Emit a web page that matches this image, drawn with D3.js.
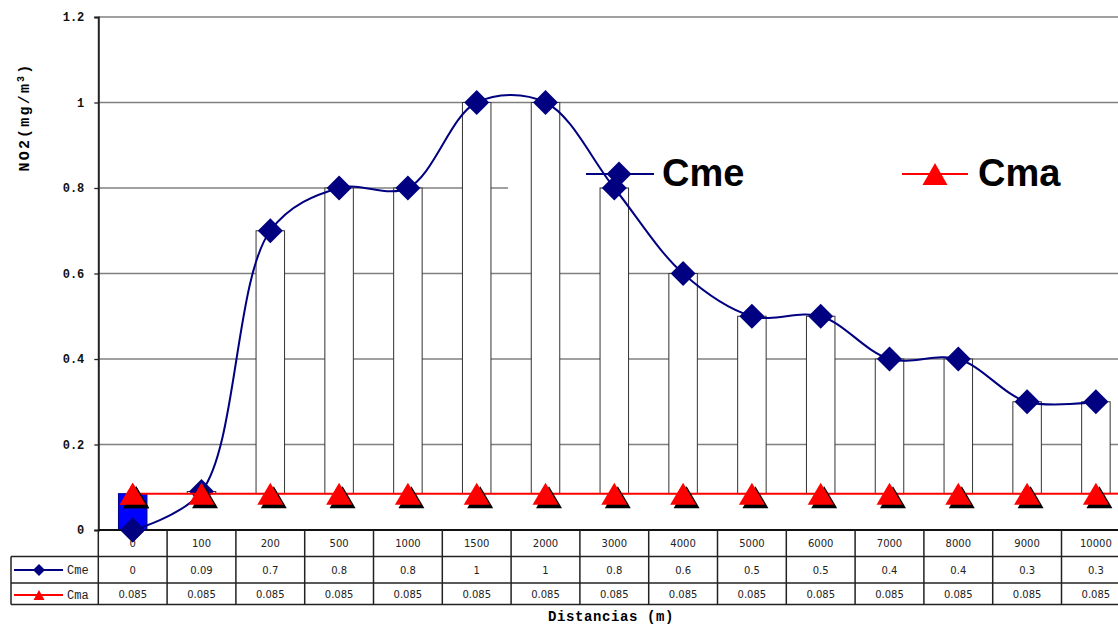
<!DOCTYPE html>
<html>
<head>
<meta charset="utf-8">
<script src="https://cdn.jsdelivr.net/npm/d3@7"></script>
<style>
  html, body { margin: 0; padding: 0; background: #fff; }
  svg { display: block; }
</style>
</head>
<body>
<svg id="chart" width="1118" height="627"></svg>
<script>
// Distances along the measurement line and the two NO2 series
const distancias = ["0", "100", "200", "500", "1000", "1500", "2000", "3000", "4000", "5000", "6000", "7000", "8000", "9000", "10000"];
const cme = [0, 0.09, 0.7, 0.8, 0.8, 1, 1, 0.8, 0.6, 0.5, 0.5, 0.4, 0.4, 0.3, 0.3];
const cma = [0.085, 0.085, 0.085, 0.085, 0.085, 0.085, 0.085, 0.085, 0.085, 0.085, 0.085, 0.085, 0.085, 0.085, 0.085];
const yTicks = [0, 0.2, 0.4, 0.6, 0.8, 1, 1.2];
const seriesNames = ["Cme", "Cma"];

const W = 1118, H = 627;
const left = 98.3, step = 68.8;
const svg = d3.select("#chart");

const x = d3.scaleBand().domain(distancias).range([left, left + step * distancias.length]).padding(0);
const y = d3.scaleLinear().domain([0, 1.2]).range([530, 17]);
const cx = d => x(d) + x.bandwidth() / 2;

const NAVY = "#000080", RED = "#ff0000";

// gridlines
const grid = svg.append("g");
grid.selectAll("line").data(yTicks.filter(v => v > 0)).join("line")
  .attr("x1", left).attr("x2", W)
  .attr("y1", d => y(d)).attr("y2", d => y(d))
  .attr("stroke", "#808080").attr("stroke-width", 1.3);

// y axis
const yAxis = d3.axisLeft(y).tickValues(yTicks).tickSize(4).tickPadding(10)
  .tickFormat(d => d3.format("~g")(d));
const ya = svg.append("g").attr("transform", `translate(${left},0)`).call(yAxis);
ya.select(".domain").attr("stroke", "#222").attr("stroke-width", 2);
ya.selectAll(".tick line").attr("stroke", "#222").attr("stroke-width", 1.3);
ya.selectAll(".tick text")
  .attr("font-family", "Liberation Mono, DejaVu Sans Mono, monospace")
  .attr("font-weight", "bold").attr("font-size", 12).attr("fill", "#111");

// legend panel (white backing behind the big legend)
svg.append("rect").attr("x", 508).attr("y", 145).attr("width", W - 508).attr("height", 60)
  .attr("fill", "#fff");

// up-down bars between Cma and Cme
const bw = 28.5;
svg.append("g").selectAll("rect").data(distancias).join("rect")
  .attr("x", d => cx(d) - bw / 2)
  .attr("width", bw)
  .attr("y", (d, i) => y(Math.max(cme[i], cma[i])))
  .attr("height", (d, i) => Math.abs(y(cme[i]) - y(cma[i])))
  .attr("fill", (d, i) => cme[i] < cma[i] ? "#0000ff" : "#fff")
  .attr("stroke", (d, i) => cme[i] < cma[i] ? "#00008b" : "#333")
  .attr("stroke-width", 1);

// x axis line
svg.append("line").attr("x1", left).attr("x2", W).attr("y1", y(0)).attr("y2", y(0))
  .attr("stroke", "#111").attr("stroke-width", 2);

// Cme smoothed line
const line = d3.line().x(d => cx(d.k)).y(d => y(d.v)).curve(d3.curveCatmullRom.alpha(0.5));
const cmePts = distancias.map((k, i) => ({ k, v: cme[i] }));
const cmaPts = distancias.map((k, i) => ({ k, v: cma[i] }));
svg.append("path").attr("d", line(cmePts)).attr("fill", "none")
  .attr("stroke", NAVY).attr("stroke-width", 2);

const diamond = (s) => `M0,${-s}L${s},0L0,${s}L${-s},0Z`;
const tri = (w, h) => `M0,${-h}L${w},${h}L${-w},${h}Z`;

svg.append("g").selectAll("path").data(cmePts).join("path")
  .attr("transform", d => `translate(${cx(d.k)},${y(d.v)})`)
  .attr("d", diamond(12.5)).attr("fill", NAVY);

// Cma line and markers (with drop shadow)
svg.append("path").attr("d", d3.line().x(d => cx(d.k)).y(d => y(d.v))(cmaPts))
  .attr("fill", "none").attr("stroke", RED).attr("stroke-width", 2);
svg.append("line").attr("x1", cx(distancias[distancias.length - 1])).attr("x2", W)
  .attr("y1", y(cma[cma.length - 1])).attr("y2", y(cma[cma.length - 1]))
  .attr("stroke", RED).attr("stroke-width", 2);
const triG = svg.append("g");
triG.selectAll("path.sh").data(cmaPts).join("path").attr("class", "sh")
  .attr("transform", d => `translate(${cx(d.k) + 3.5},${y(d.v) + 3.5})`)
  .attr("d", tri(13, 11)).attr("fill", "#000");
triG.selectAll("path.tr").data(cmaPts).join("path").attr("class", "tr")
  .attr("transform", d => `translate(${cx(d.k)},${y(d.v)})`)
  .attr("d", tri(13, 11)).attr("fill", RED);

// data table under the plot
const rowY = [530, 556.5, 583, 604.5];
const tbl = svg.append("g").attr("stroke", "#222").attr("stroke-width", 1.5);
[rowY[1], rowY[2], rowY[3]].forEach(yy => {
  tbl.append("line").attr("x1", 11).attr("x2", W).attr("y1", yy).attr("y2", yy);
});
d3.range(distancias.length + 1).forEach(i => {
  const xx = left + i * step;
  tbl.append("line").attr("x1", xx).attr("x2", xx).attr("y1", rowY[0]).attr("y2", rowY[3]);
});
tbl.append("line").attr("x1", 11).attr("x2", 11).attr("y1", rowY[1]).attr("y2", rowY[3]);

const cellText = svg.append("g").attr("font-family", "DejaVu Sans, sans-serif")
  .attr("font-size", 10).attr("fill", "#222").attr("text-anchor", "middle");
cellText.selectAll("text.cat").data(distancias).join("text").attr("class", "cat")
  .attr("x", d => cx(d)).attr("y", 547).text(d => d);
cellText.selectAll("text.me").data(cmePts).join("text").attr("class", "me")
  .attr("x", d => cx(d.k)).attr("y", 574).text(d => String(d.v));
cellText.selectAll("text.ma").data(cmaPts).join("text").attr("class", "ma")
  .attr("x", d => cx(d.k)).attr("y", 598).text(d => String(d.v));

// first point sits on the axis, so its markers are layered above the category cell
svg.append("path").attr("transform", `translate(${cx(distancias[0])},${y(cme[0])})`)
  .attr("d", diamond(12.5)).attr("fill", NAVY);
svg.append("path").attr("transform", `translate(${cx(distancias[0]) + 3.5},${y(cma[0]) + 3.5})`)
  .attr("d", tri(13, 11)).attr("fill", "#000");
svg.append("path").attr("transform", `translate(${cx(distancias[0])},${y(cma[0])})`)
  .attr("d", tri(13, 11)).attr("fill", RED);

// table legend keys
const keyY = [570, 595];
const tk = svg.append("g");
tk.append("line").attr("x1", 14).attr("x2", 63).attr("y1", keyY[0]).attr("y2", keyY[0]).attr("stroke", NAVY).attr("stroke-width", 2);
tk.append("path").attr("transform", `translate(39,${keyY[0]})`).attr("d", diamond(6)).attr("fill", NAVY);
tk.append("line").attr("x1", 14).attr("x2", 63).attr("y1", keyY[1]).attr("y2", keyY[1]).attr("stroke", RED).attr("stroke-width", 2);
tk.append("path").attr("transform", `translate(39,${keyY[1]})`).attr("d", tri(5.5, 5)).attr("fill", RED);
tk.selectAll("text").data(seriesNames).join("text")
  .attr("x", 67).attr("y", (d, i) => keyY[i] + 4)
  .attr("font-family", "Liberation Mono, Courier New, monospace").attr("font-size", 12)
  .attr("fill", "#222").text(d => d);

// big legend
const lg = svg.append("g");
const legY = 174;
lg.append("line").attr("x1", 586).attr("x2", 654).attr("y1", legY).attr("y2", legY).attr("stroke", NAVY).attr("stroke-width", 2);
lg.append("path").attr("transform", `translate(619,${legY})`).attr("d", diamond(12.5)).attr("fill", NAVY);
lg.append("line").attr("x1", 902).attr("x2", 968).attr("y1", legY).attr("y2", legY).attr("stroke", RED).attr("stroke-width", 2);
lg.append("path").attr("transform", `translate(935,${legY})`).attr("d", tri(12.5, 11)).attr("fill", RED);
lg.selectAll("text").data(seriesNames).join("text")
  .attr("x", (d, i) => i === 0 ? 662 : 978).attr("y", 186)
  .attr("font-family", "Liberation Sans, Arial, sans-serif").attr("font-weight", "bold")
  .attr("font-size", 38).attr("fill", "#000").text(d => d);

// axis titles
svg.append("text").attr("transform", "translate(29,117) rotate(-90)")
  .attr("text-anchor", "middle")
  .attr("font-family", "Liberation Mono, DejaVu Sans Mono, monospace")
  .attr("font-weight", "bold").attr("font-size", 15).attr("letter-spacing", 2.2)
  .attr("fill", "#000")
  .html('NO2(mg/m<tspan baseline-shift="super" font-size="10">3</tspan>)');
svg.append("text").attr("x", 611).attr("y", 621).attr("text-anchor", "middle")
  .attr("font-family", "Liberation Mono, DejaVu Sans Mono, monospace")
  .attr("font-weight", "bold").attr("font-size", 14).attr("letter-spacing", 0.6).attr("fill", "#000")
  .text("Distancias (m)");
</script>
</body>
</html>
